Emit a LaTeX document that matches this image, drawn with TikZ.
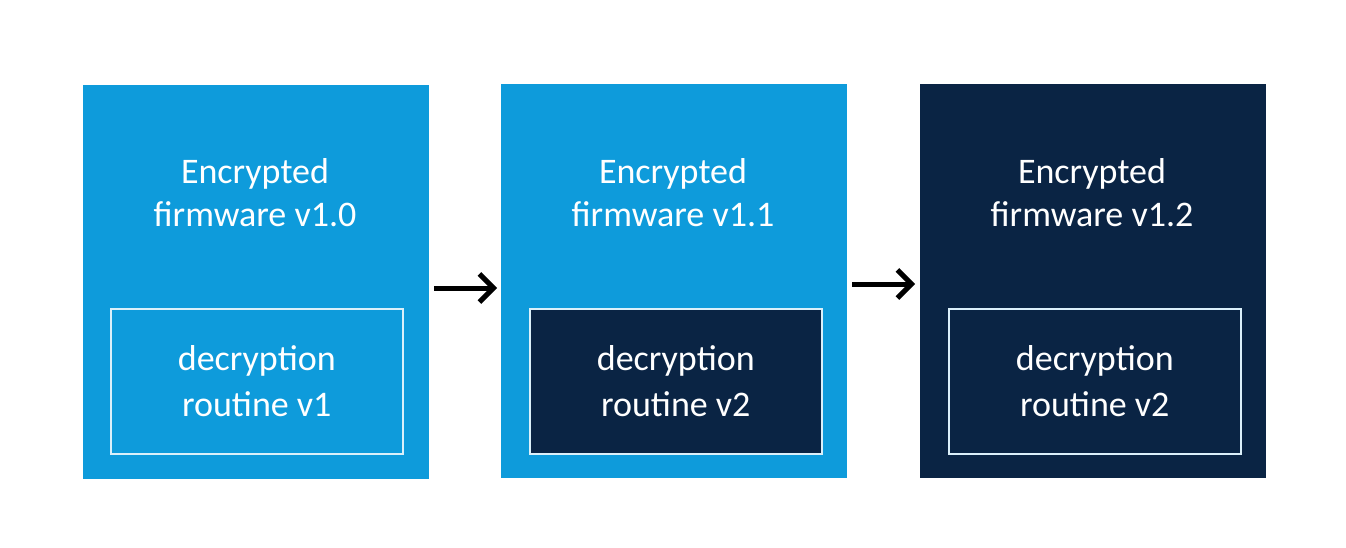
\documentclass[tikz,border=0pt]{standalone}
\usepackage{fontspec}
\setmainfont{Carlito}
\usetikzlibrary{arrows.meta}
\definecolor{lblue}{HTML}{0E9BDB}
\definecolor{navy}{HTML}{0A2444}
\tikzset{
  x=1pt,y=-1pt,
  outer/.style={minimum width=346pt,minimum height=394pt,inner sep=0pt,outer sep=0pt,anchor=north west},
  inner/.style={draw=white!85!lblue,line width=1.6pt,minimum width=292pt,minimum height=145pt,inner sep=0pt,anchor=north west},
  lbl/.style={text=white,font=\fontsize{36}{43}\selectfont,align=center},
  arr/.style={-{Straight Barb[length=14pt,width=28pt,line width=5pt]},line width=5pt,black},
}
\begin{document}
\begin{tikzpicture}
\useasboundingbox (0,0) rectangle (1346,548);
\fill[white] (0,0) rectangle (1346,548);
\node[outer,fill=lblue] (b1) at (83,85) {};
\node[outer,fill=lblue] (b2) at (501,84) {};
\node[outer,fill=navy] (b3) at (920,84) {};
\node[inner,fill=lblue] (i1) at (110,308) {};
\node[inner,fill=navy] (i2) at (529,308) {};
\node[inner,fill=navy] (i3) at (948,308) {};
\node[lbl] (t1) at (255,193) {Encrypted\\firmware v1.0};
\node[lbl] (t2) at (673,193) {Encrypted\\firmware v1.1};
\node[lbl] (t3) at (1092,193) {Encrypted\\firmware v1.2};
\node[lbl,font=\fontsize{36}{46}\selectfont] (r1) at (i1.center) {decryption\\routine v1};
\node[lbl,font=\fontsize{36}{46}\selectfont] (r2) at (i2.center) {decryption\\routine v2};
\node[lbl,font=\fontsize{36}{46}\selectfont] (r3) at (i3.center) {decryption\\routine v2};
\coordinate (a1s) at (434,288);
\coordinate (a1e) at (497,288);
\coordinate (a2s) at (852,284);
\coordinate (a2e) at (915,284);
\draw[arr] (a1s) -- (a1e);
\draw[arr] (a2s) -- (a2e);
\end{tikzpicture}
\end{document}
